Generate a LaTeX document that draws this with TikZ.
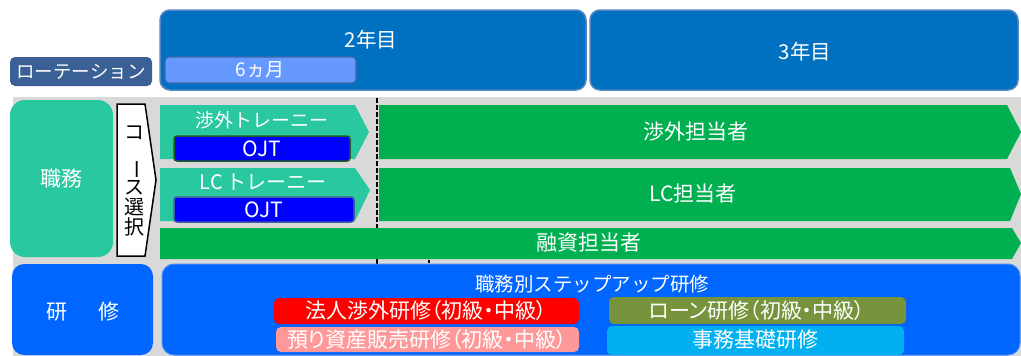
\documentclass[tikz,border=0pt]{standalone}
\usepackage{fontspec}
\setmainfont{Noto Sans CJK JP}
\newfontfamily\paltfont[RawFeature=+palt]{Noto Sans CJK JP}
\definecolor{yearblue}{HTML}{0070C0}
\definecolor{yearedge}{HTML}{5585C2}
\definecolor{rotblue}{HTML}{3A6096}
\definecolor{sixfill}{HTML}{6699FF}
\definecolor{sixedge}{HTML}{3F67A8}
\definecolor{bggray}{HTML}{D9D9D9}
\definecolor{teal}{HTML}{2AC8A0}
\definecolor{barGreen}{HTML}{00B050}
\definecolor{ojtblue}{HTML}{0000FF}
\definecolor{ojtedgeA}{HTML}{1E5E1E}
\definecolor{ojtedgeB}{HTML}{3F5FA0}
\definecolor{trainblue}{HTML}{0066FF}
\definecolor{trainedge}{HTML}{4A8CFF}
\definecolor{pinkbox}{HTML}{FF9999}
\definecolor{olivebox}{HTML}{77933C}
\definecolor{cyanbox}{HTML}{00B0F0}
\tikzset{
  lbl/.style={text=white, font=\fontsize{21}{23}\selectfont, inner sep=0pt},
  lbls/.style={lbl, font=\fontsize{19}{21}\selectfont},
  lblp/.style={lbl, font=\paltfont\fontsize{21}{23}\selectfont},
  blk/.style={text=black, inner sep=0pt},
}
\begin{document}
\begin{tikzpicture}[x=1pt,y=-1pt]
\useasboundingbox (0,0) rectangle (1021,356);
% gray background
\fill[bggray] (13,97) rectangle (1021,356);
% year boxes
\draw[fill=yearblue, draw=yearedge, line width=1.5pt, rounded corners=10pt] (160,10) rectangle (586,90);
\draw[fill=yearblue, draw=yearedge, line width=1.5pt, rounded corners=10pt] (590,10) rectangle (1018,90);
\node[lbl, font=\fontsize{20.5}{22}\selectfont] (y2) at (371,40) {2年目};
\node[lbl, font=\fontsize{20.5}{22}\selectfont] (y3) at (805,52) {3年目};
\draw[fill=sixfill, draw=sixedge, line width=1.2pt, rounded corners=4pt] (165,57) rectangle (356,83);
\node[lbls] (six) at (260,70) {6ヵ月};
\fill[rotblue, rounded corners=5pt] (10,57) rectangle (152,86);
\node[lbls, font=\fontsize{18.5}{20}\selectfont] (rot) at (81,72) {ローテーション};
% dashed lines
\draw[black, line width=2pt, dash pattern=on 5pt off 2pt] (377,98) -- (377,264);
\draw[black, line width=2pt, dash pattern=on 3pt off 4pt] (429,260) -- (429,356);
% shokumu
\fill[teal, rounded corners=15pt] (10,100) rectangle (113,257);
\node[lbl] (shoku) at (62,179) {職務};
% course selection pentagon
\draw[fill=white, draw=black, line width=1.5pt] (117,104) -- (145,104) -- (156,180) -- (145,256) -- (117,256) -- cycle;
\node[blk, align=center, font=\fontsize{20}{20}\selectfont] (course) at (134,181) {コ\\\rotatebox{-90}{ー}\\ス\\選\\択};
% trainee arrows
\fill[teal] (160,105) -- (355,105) -- (369,132) -- (355,159) -- (160,159) -- cycle;
\node[lbls] (shogai) at (262,120) {渉外トレーニー};
\draw[fill=ojtblue, draw=ojtedgeA, line width=1.5pt, rounded corners=3pt] (174,136) rectangle (350,161);
\node[lbl] (ojt1) at (262,149) {OJT};
\fill[teal] (160,168) -- (355,168) -- (370,190) -- (355,221) -- (160,221) -- cycle;
\node[lbls, font=\fontsize{20}{22}\selectfont] (lct) at (263,182) {LC\,トレーニー};
\draw[fill=ojtblue, draw=ojtedgeB, line width=1.5pt, rounded corners=3pt] (174,197) rectangle (354,222);
\node[lbl] (ojt2) at (264,210) {OJT};
% green bars
\fill[barGreen] (379,105) -- (1007,105) -- (1021,132) -- (1007,159) -- (379,159) -- cycle;
\node[lbl] (shogaiT) at (696,132) {渉外担当者};
\fill[barGreen] (379,168) -- (1010,168) -- (1021,194) -- (1010,221) -- (379,221) -- cycle;
\node[lbl] (lcT) at (693,194) {LC担当者};
\fill[barGreen] (160,228) -- (1012,228) -- (1021,243) -- (1012,259) -- (160,259) -- cycle;
\node[lbl] (yushi) at (589,243) {融資担当者};
% training
\fill[trainblue, rounded corners=12pt] (12,264) rectangle (153,355);
\node[lbl] (kenshu) at (83,312) {研\hspace{1.45em}修};
\draw[fill=trainblue, draw=trainedge, line width=1pt, rounded corners=12pt] (162,264) rectangle (1020,355);
\node[lbls, font=\fontsize{19.5}{21}\selectfont] (step) at (592,284) {職務別ステップアップ研修};
\fill[red, rounded corners=5pt] (274,298) rectangle (579,324);
\node[lblp] (hojin) at (426,311) {法人渉外研修（初級・中級）};
\fill[pinkbox, rounded corners=5pt] (276,327) rectangle (579,352);
\node[lblp] (azukari) at (427,340) {預り資産販売研修（初級・中級）};
\fill[olivebox, rounded corners=5pt] (609,297) rectangle (906,324);
\node[lblp] (loan) at (757,311) {ローン研修（初級・中級）};
\fill[cyanbox, rounded corners=5pt] (607,326) rectangle (904,355);
\node[lbl] (jimu) at (755,340) {事務基礎研修};
\end{tikzpicture}
\end{document}
